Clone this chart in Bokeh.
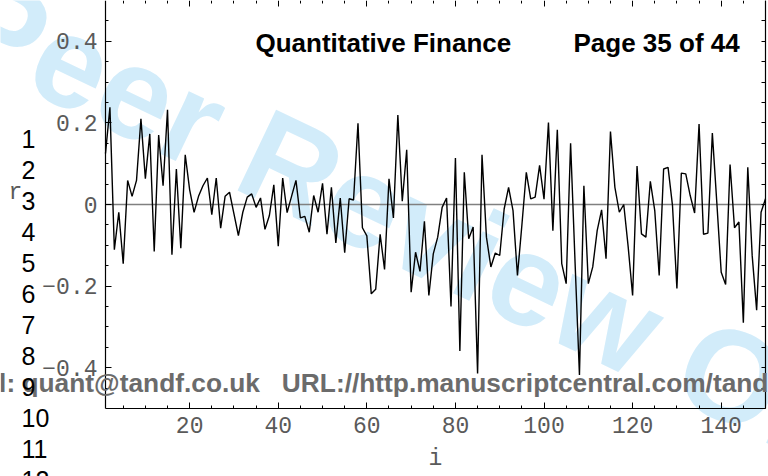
from bokeh.plotting import figure
from bokeh.models import Range1d, LinearAxis, FixedTicker, Label
from bokeh.embed import file_html
from bokeh.resources import INLINE

# ---- data: r_i for i = 1..150 ----
returns = [
    0.125, 0.238, -0.111, -0.019, -0.145, 0.059, 0.020, 0.059, 0.210, 0.063,
    0.173, -0.115, 0.170, 0.046, 0.232, -0.123, 0.087, -0.107, 0.122, 0.036,
    -0.019, 0.020, 0.046, 0.065, -0.025, 0.065, -0.058, 0.020, 0.030, -0.023,
    -0.076, -0.019, 0.018, 0.026, -0.007, 0.016, -0.061, -0.027, 0.048, -0.102,
    0.065, -0.020, 0.020, 0.059, -0.033, -0.029, -0.068, 0.022, -0.019, 0.052,
    -0.073, 0.042, -0.094, 0.016, -0.118, 0.014, 0.011, 0.199, -0.057, -0.077,
    -0.219, -0.208, -0.073, -0.159, 0.063, -0.033, 0.219, 0.008, 0.134, -0.215,
    -0.117, -0.164, -0.041, -0.223, -0.121, -0.080, -0.007, 0.016, -0.250, 0.114,
    -0.359, 0.079, -0.084, -0.055, -0.414, 0.122, -0.080, -0.153, -0.119, -0.125,
    -0.011, 0.042, -0.015, -0.174, -0.051, 0.079, 0.014, 0.018, 0.096, 0.013,
    0.201, -0.064, 0.183, -0.145, -0.194, 0.150, -0.140, -0.418, 0.046, -0.194,
    -0.153, -0.064, -0.013, -0.133, 0.179, 0.042, -0.019, 0.000, -0.104, -0.223,
    0.094, -0.072, -0.080, 0.057, -0.015, -0.174, 0.087, 0.091, -0.002, -0.206,
    0.077, 0.075, 0.022, -0.021, 0.197, -0.073, -0.070, 0.175, 0.006, -0.166,
    -0.196, 0.098, -0.057, -0.043, -0.290, 0.091, -0.126, -0.259, -0.019, 0.014,
]
index = list(range(1, len(returns) + 1))
zero_level = [0.0, 0.0]

x_major = [20, 40, 60, 80, 100, 120, 140]
x_minor = [5, 10, 15, 25, 30, 35, 45, 50, 55, 65, 70, 75, 85, 90, 95,
           105, 110, 115, 125, 130, 135, 145, 150]
y_major = [-0.4, -0.2, 0.0, 0.2, 0.4]
y_major_labels = ["\u22120.4", "\u22120.2", "0", "0.2", "0.4"]
y_minor = [-0.45, -0.35, -0.3, -0.25, -0.15, -0.1, -0.05,
           0.05, 0.1, 0.15, 0.25, 0.3, 0.35, 0.45]
y_all = [-0.45, -0.4, -0.35, -0.3, -0.25, -0.2, -0.15, -0.1, -0.05, 0.0,
         0.05, 0.1, 0.15, 0.2, 0.25, 0.3, 0.35, 0.4, 0.45]
y_limits = [-0.5, 0.5]

x_label = "i"
y_label = "r"
header_title = "Quantitative Finance"
header_page = "Page 35 of 44"
footer_text = "E-mail: quant@tandf.co.uk \u00a0\u00a0URL://http.manuscriptcentral.com/tandf/rquf"
watermark_text = "For Peer Review Only"
line_numbers = ["1", "2", "3", "4", "5", "6", "7", "8", "9", "10", "11", "12"]

# ---- page geometry (pixels) ----
W, H = 768, 476
BOX_L, BOX_R, BOX_T, BOX_B = 105, 765, 0, 408   # framed plot box

x0, x1 = index[0], index[-1]
ux = (x1 - x0) / (BOX_R - BOX_L)
uy = (y_limits[1] - y_limits[0]) / (BOX_B - BOX_T)
x_range = Range1d(x0 - BOX_L * ux, x1 + (W - BOX_R) * ux)
y_range = Range1d(y_limits[0] - (H - BOX_B) * uy, y_limits[1] + BOX_T * uy)

MONO = "Liberation Mono"
SANS = "Liberation Sans"
TICK_GREY = "#5a5a5a"

p = figure(width=W, height=H, x_range=x_range, y_range=y_range,
           output_backend="svg", toolbar_location=None,
           min_border_left=0, min_border_right=0, min_border_top=0,
           min_border_bottom=0)
p.grid.visible = False
p.outline_line_color = None
p.background_fill_color = "white"
p.border_fill_color = "white"
p.axis.visible = False


def sy(py):
    # screen y (from bottom) for a pixel row counted from the top
    return H - py


# watermark (behind everything)
p.add_layout(Label(x=-260, y=sy(-97), x_units="screen", y_units="screen",
                   text=watermark_text, angle=-0.445,
                   text_font=SANS, text_font_style="bold", text_font_size="130px",
                   text_color="#d2ecfa", text_align="left",
                   text_baseline="alphabetic", level="underlay"))


def style_axis(ax, tick_in, minor_in, labels=True):
    ax.axis_line_color = "black"
    ax.axis_line_width = 1.2
    ax.major_tick_in = tick_in
    ax.major_tick_out = 0
    ax.minor_tick_in = minor_in
    ax.minor_tick_out = 0
    ax.major_tick_line_color = "black"
    ax.minor_tick_line_color = "black"
    ax.major_label_text_font = MONO
    ax.major_label_text_font_size = "23px"
    if labels:
        ax.major_label_text_color = TICK_GREY
        ax.major_label_standoff = 8
    else:
        ax.major_label_text_color = None
        ax.major_label_standoff = 0


xa = LinearAxis(ticker=FixedTicker(ticks=x_major, minor_ticks=x_minor),
                fixed_location=y_limits[0], bounds=(x0, x1))
style_axis(xa, 6, 3)
xa.axis_label = x_label
xa.axis_label_text_font = MONO
xa.axis_label_text_font_size = "23px"
xa.axis_label_text_font_style = "normal"
xa.axis_label_text_color = TICK_GREY
xa.axis_label_standoff = 10
p.add_layout(xa, "below")

ya = LinearAxis(ticker=FixedTicker(ticks=y_major, minor_ticks=y_minor),
                fixed_location=x0, bounds=(y_limits[0], y_limits[1]))
style_axis(ya, 6, 3)
ya.major_label_overrides = {v: s for v, s in zip(y_major, y_major_labels)}
p.add_layout(ya, "left")

ra = LinearAxis(ticker=FixedTicker(ticks=y_all, minor_ticks=[]),
                fixed_location=x1, bounds=(y_limits[0], y_limits[1]))
style_axis(ra, 4, 0, labels=False)
p.add_layout(ra, "right")

ta = LinearAxis(ticker=FixedTicker(ticks=x_major, minor_ticks=x_minor),
                fixed_location=y_limits[1], bounds=(x0, x1))
style_axis(ta, 6, 3, labels=False)
ta.axis_line_color = None
p.add_layout(ta, "above")

# grey zero axis across the box
p.line([x0, x1], zero_level, line_color="#808080", line_width=1.5)

# the series
p.line(index, returns, line_color="black", line_width=1.4)

# y label "r"
p.add_layout(Label(x=8, y=sy(192), x_units="screen", y_units="screen", text=y_label,
                   text_font=MONO, text_font_size="23px", text_color=TICK_GREY,
                   text_align="left", text_baseline="alphabetic"))

# header
for txt, px in ((header_title, 255), (header_page, 573)):
    p.add_layout(Label(x=px, y=sy(42), x_units="screen", y_units="screen", text=txt,
                       text_font=SANS, text_font_style="bold", text_font_size="26px",
                       text_color="black", text_align="left", text_baseline="alphabetic"))

# footer
p.add_layout(Label(x=-73, y=sy(382), x_units="screen", y_units="screen", text=footer_text,
                   text_font=SANS, text_font_style="bold", text_font_size="26.3px",
                   text_color="#6b6b6b", text_align="left", text_baseline="alphabetic"))

# line numbers in the margin
for k, t in enumerate(line_numbers):
    p.add_layout(Label(x=21, y=sy(138 + 31 * k), x_units="screen", y_units="screen",
                       text=t, text_font=SANS, text_font_size="25px", text_color="black",
                       text_align="left", text_baseline="alphabetic"))

open("out.html", "w").write(file_html(p, INLINE))
